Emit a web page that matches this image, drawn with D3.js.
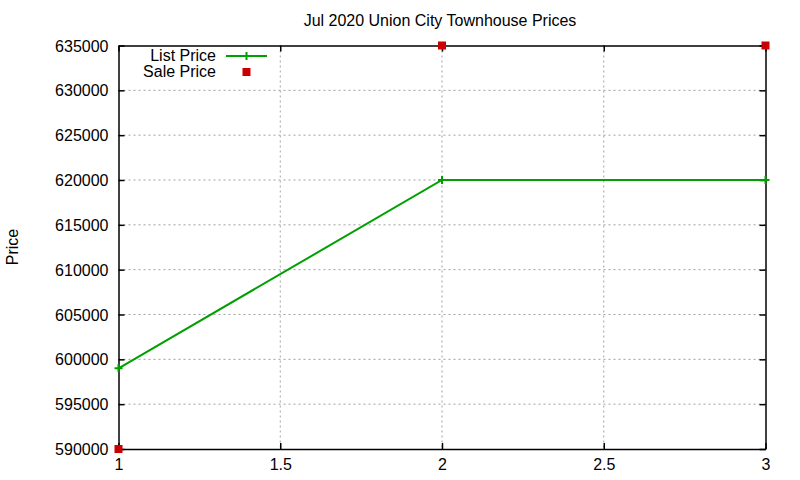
<!DOCTYPE html>
<html>
<head>
<meta charset="utf-8">
<script src="https://cdn.jsdelivr.net/npm/d3@7"></script>
<style>
  body { margin: 0; background: #fff; }
  svg text { font-family: "Liberation Sans", Arial, sans-serif; fill: #000; }
</style>
</head>
<body>
<svg id="chart"></svg>
<script>
// data
const xValues = [1, 2, 3];
const listPrice = [599000, 620000, 620000];
const salePrice = [590000, 635000, 635000];
const xTicks = [1, 1.5, 2, 2.5, 3];
const yTicks = [590000, 595000, 600000, 605000, 610000, 615000, 620000, 625000, 630000, 635000];

const width = 800;
const height = 480;
const margin = { left: 118.5, right: 34.5, top: 45.5, bottom: 31 };
const fontSize = 16;

const svg = d3.select('#chart')
  .attr('width', width)
  .attr('height', height);

// scales
const xScale = d3.scaleLinear()
  .domain([1, 3])
  .range([margin.left, width - margin.right]);

const yScale = d3.scaleLinear()
  .domain([590000, 635000])
  .range([height - margin.bottom, margin.top]);

// grid lines
svg.append('g')
  .selectAll('line')
  .data(xTicks.slice(1, -1))
  .enter()
  .append('line')
  .attr('x1', (d) => xScale(d)).attr('x2', (d) => xScale(d))
  .attr('y1', margin.top).attr('y2', height - margin.bottom)
  .attr('stroke', '#a0a0a0')
  .attr('stroke-dasharray', '2,3');

svg.append('g')
  .selectAll('line')
  .data(yTicks.slice(1, -1))
  .enter()
  .append('line')
  .attr('x1', margin.left).attr('x2', width - margin.right)
  .attr('y1', (d) => yScale(d)).attr('y2', (d) => yScale(d))
  .attr('stroke', '#a0a0a0')
  .attr('stroke-dasharray', '2,3');

// axes, gnuplot style: ticks pointing in, mirrored on top/right
const xAxis = d3.axisBottom(xScale).tickValues(xTicks).tickSize(-6).tickPadding(10).tickFormat(d3.format('')).tickSizeOuter(0);
const yAxis = d3.axisLeft(yScale).tickValues(yTicks).tickSize(-6).tickPadding(10).tickFormat(d3.format('d')).tickSizeOuter(0);

const gx = svg.append('g')
  .attr('transform', `translate(0,${height - margin.bottom})`)
  .call(xAxis);
const gy = svg.append('g')
  .attr('transform', `translate(${margin.left},0)`)
  .call(yAxis);

svg.append('g')
  .attr('transform', `translate(0,${margin.top})`)
  .call(d3.axisTop(xScale).tickValues(xTicks).tickSize(-6).tickFormat('').tickSizeOuter(0));
svg.append('g')
  .attr('transform', `translate(${width - margin.right},0)`)
  .call(d3.axisRight(yScale).tickValues(yTicks).tickSize(-6).tickFormat('').tickSizeOuter(0));

svg.selectAll('.domain').attr('stroke', '#000').attr('stroke-width', 1.5);
svg.selectAll('.tick line').attr('stroke', '#000').attr('stroke-width', 1.5);
svg.selectAll('.tick text').style('font-size', fontSize + 'px').attr('fill', '#000');
gy.selectAll('.tick text').attr('dy', '0.35em');
gx.selectAll('.tick text').attr('dy', '0.71em');

// list price line
const line = d3.line()
  .x((d, i) => xScale(xValues[i]))
  .y((d) => yScale(d));

svg.append('path')
  .datum(listPrice)
  .attr('d', line)
  .attr('fill', 'none')
  .attr('stroke', '#00a000')
  .attr('stroke-width', 2);

const plus = d3.symbol().type(d3.symbolCross);
svg.append('g')
  .selectAll('path')
  .data(listPrice)
  .enter()
  .append('path')
  .attr('transform', (d, i) => `translate(${xScale(xValues[i])},${yScale(d)})`)
  .attr('d', 'M-4,0H4M0,-4V4')
  .attr('stroke', '#00a000')
  .attr('stroke-width', 2);

// sale price points
svg.append('g')
  .selectAll('rect')
  .data(salePrice)
  .enter()
  .append('rect')
  .attr('x', (d, i) => xScale(xValues[i]) - 4)
  .attr('y', (d) => yScale(d) - 4)
  .attr('width', 8)
  .attr('height', 8)
  .attr('fill', '#cc0000');

// legend
const legend = svg.append('g').style('font-size', fontSize + 'px');
legend.append('text').attr('x', 216).attr('y', 55).attr('dy', '0.35em').attr('text-anchor', 'end').text('List Price');
legend.append('line').attr('x1', 226).attr('x2', 267).attr('y1', 56).attr('y2', 56)
  .attr('stroke', '#00a000').attr('stroke-width', 2);
legend.append('path').attr('transform', 'translate(246.5,56)').attr('d', 'M-4,0H4M0,-4V4')
  .attr('stroke', '#00a000').attr('stroke-width', 2);
legend.append('text').attr('x', 216).attr('y', 71).attr('dy', '0.35em').attr('text-anchor', 'end').text('Sale Price');
legend.append('rect').attr('x', 242.5).attr('y', 68).attr('width', 8).attr('height', 8).attr('fill', '#cc0000');

// title and axis label
svg.append('text')
  .attr('x', 440).attr('y', 20).attr('dy', '0.35em')
  .attr('text-anchor', 'middle')
  .style('font-size', fontSize + 'px')
  .text('Jul 2020 Union City Townhouse Prices');

svg.append('text')
  .attr('transform', 'translate(12,247) rotate(-90)')
  .attr('dy', '0.35em')
  .attr('text-anchor', 'middle')
  .style('font-size', fontSize + 'px')
  .text('Price');
</script>
</body>
</html>
